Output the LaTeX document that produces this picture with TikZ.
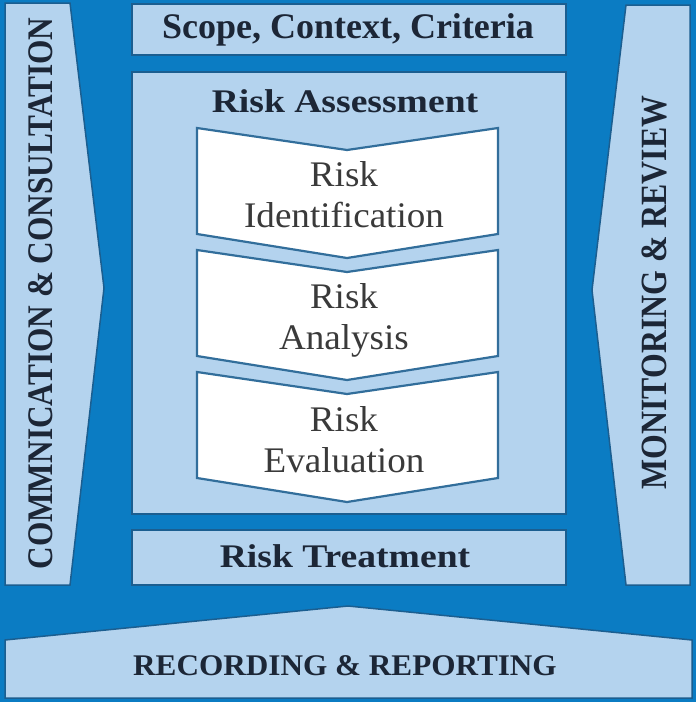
\documentclass[tikz,border=0pt]{standalone}
\usepackage{fontspec}
\setmainfont{Liberation Serif}
\newfontfamily\condfont[FakeStretch=0.87]{Liberation Serif}
\newfontfamily\condfontb[FakeStretch=0.86]{Liberation Serif}
\newfontfamily\widefont[FakeStretch=1.14]{Liberation Serif}
\newfontfamily\recfont[FakeStretch=1.04]{Liberation Serif}
\newfontfamily\chevfont[FakeStretch=1.03]{Liberation Serif}
\definecolor{bgblue}{HTML}{0B7CC3}
\definecolor{panel}{HTML}{B4D3EE}
\definecolor{edge}{HTML}{1B5E90}
\definecolor{ink}{HTML}{1C2636}
\definecolor{gray}{HTML}{3A3A3A}
\begin{document}
\begin{tikzpicture}[x=1pt,y=-1pt,
  panelbox/.style={fill=panel,draw=edge,line width=1.5pt,line join=miter},
  chev/.style={fill=white,draw=edge!90!white,line width=2.2pt,line join=miter},
  boldlbl/.style={text=ink,inner sep=0pt,anchor=base},
  chevlbl/.style={font=\chevfont\fontsize{36}{41}\selectfont,text=gray,align=center,inner sep=0pt,anchor=base}]
\fill[bgblue] (0,0) rectangle (696,702);
\useasboundingbox (0,0) rectangle (696,702);
% side panels
\draw[panelbox] (5,3) -- (70,3) -- (104,288) -- (70,585) -- (5,585) -- cycle;
\draw[panelbox] (626,5) -- (690,5) -- (690,585) -- (626,585) -- (592,290) -- cycle;
% top / middle boxes
\draw[panelbox] (132,4) rectangle (566,55);
\draw[panelbox] (132,72) rectangle (566,514);
\draw[panelbox] (132,530) rectangle (566,585);
% bottom panel
\draw[panelbox] (5,640) -- (348,606) -- (692,640) -- (692,698) -- (5,698) -- cycle;
% chevrons
\foreach \t in {128,250,372}{
  \draw[chev] (197,\t) -- (347,\t+22) -- (498,\t) -- (498,\t+106) -- (347,\t+130) -- (197,\t+106) -- cycle;
}
% labels
\node[boldlbl,font=\fontsize{36}{40}\selectfont\bfseries] (scope) at (348,38) {Scope, Context, Criteria};
\node[boldlbl,font=\widefont\fontsize{33}{36}\selectfont\bfseries] (assess) at (345,112) {Risk Assessment};
\node[boldlbl,font=\widefont\fontsize{33}{36}\selectfont\bfseries] (treat) at (345,567) {Risk Treatment};
\node[boldlbl,font=\recfont\fontsize{30}{33}\selectfont\bfseries] (record) at (345,675) {RECORDING \& REPORTING};
\node[boldlbl,font=\condfont\fontsize{36}{40}\selectfont\bfseries,rotate=90] (comm) at (52,293.5) {COMMNICATION \& CONSULTATION};
\node[boldlbl,font=\condfontb\fontsize{37}{40}\selectfont\bfseries,rotate=90] (monitor) at (666,292.5) {MONITORING \& REVIEW};
\node[chevlbl] (ident) at (344,227) {Risk\\Identification};
\node[chevlbl] (anal) at (344,349) {Risk\\Analysis};
\node[chevlbl] (eval) at (344,472) {Risk\\Evaluation};
\end{tikzpicture}
\end{document}
